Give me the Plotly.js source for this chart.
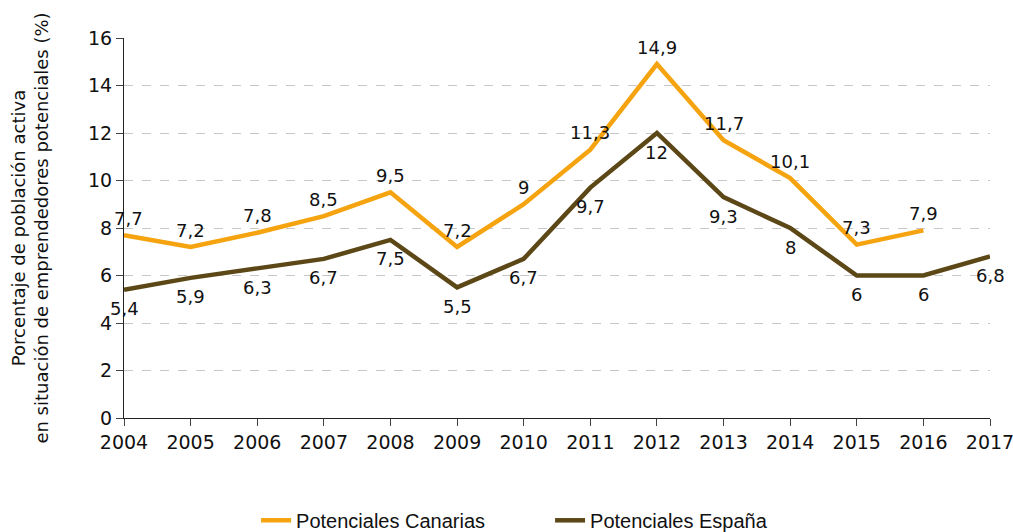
<!DOCTYPE html>
<html>
<head>
<meta charset="utf-8">
<script src="https://cdn.plot.ly/plotly-3.0.1.min.js"></script>
<style>html,body{margin:0;padding:0;background:#fff;}#chart{width:1013px;height:532px;}</style>
</head>
<body>
<div id="chart"></div>
<script>
const years = [2004,2005,2006,2007,2008,2009,2010,2011,2012,2013,2014,2015,2016,2017];
const canariasYears = [2004,2005,2006,2007,2008,2009,2010,2011,2012,2013,2014,2015,2016];
const canarias = [7.7,7.2,7.8,8.5,9.5,7.2,9,11.3,14.9,11.7,10.1,7.3,7.9];
const espana = [5.4,5.9,6.3,6.7,7.5,5.5,6.7,9.7,12,9.3,8,6,6,6.8];
const seriesNames = ['Potenciales Canarias','Potenciales España'];
const yTitle = 'Porcentaje de población activa<br>en situación de emprendedores potenciales (%)';

const colCan = '#F5A30F';
const colEsp = '#5C4716';
const fmt = v => String(v).replace('.', ',');
const labelFont = {family:'DejaVu Sans, Verdana, sans-serif', size:18, color:'#111'};

const traces = [
  {x: canariasYears, y: canarias, name: seriesNames[0], type:'scatter', mode:'lines',
   line:{color:colCan, width:4.5}, cliponaxis:false, hoverinfo:'skip'},
  {x: years, y: espana, name: seriesNames[1], type:'scatter', mode:'lines',
   line:{color:colEsp, width:4.5}, cliponaxis:false, hoverinfo:'skip'}
];

const annotations = [];
canariasYears.forEach((yr,i)=>annotations.push({x:yr, y:canarias[i], text:fmt(canarias[i]), showarrow:false,
  xanchor:'center', yanchor:'middle', yshift:17, xshift:(i===0?4:0), font:labelFont}));
years.forEach((yr,i)=>annotations.push({x:yr, y:espana[i], text:fmt(espana[i]), showarrow:false,
  xanchor:'center', yanchor:'middle', yshift:-19, font:labelFont}));

const layout = {
  width:1013, height:532,
  margin:{l:124, r:23, t:38, b:114},
  paper_bgcolor:'#fff', plot_bgcolor:'#fff',
  showlegend:true,
  legend:{orientation:'h', xref:'container', yref:'container', x:0.543, xanchor:'center', y:0.022, yanchor:'middle',
    entrywidth:249,
    font:{family:'Liberation Sans, Arial, sans-serif', size:20, color:'#111'}},
  xaxis:{range:[2004,2017], tickvals:years, ticktext:years.map(String), showgrid:false, zeroline:false,
    showline:true, linecolor:'#222', linewidth:1, ticks:'outside', ticklen:7, tickcolor:'#444',
    ticklabeloverflow:'allow',
    tickfont:{family:'DejaVu Sans, Verdana, sans-serif', size:19, color:'#111'}, fixedrange:true},
  yaxis:{range:[0,16], tickvals:[0,2,4,6,8,10,12,14,16], showgrid:true, gridcolor:'#c8c8c8', griddash:'dash', gridwidth:1,
    zeroline:false, showline:true, linecolor:'#222', linewidth:1, ticks:'outside', ticklen:7, tickcolor:'#444',
    tickfont:{family:'DejaVu Sans, Verdana, sans-serif', size:19, color:'#111'},
    title:{text:yTitle, standoff:34, font:{family:'DejaVu Sans, Verdana, sans-serif', size:18, color:'#111'}}, fixedrange:true},
  annotations: annotations
};
Plotly.newPlot('chart', traces, layout, {displayModeBar:false, staticPlot:true});
</script>
</body>
</html>
